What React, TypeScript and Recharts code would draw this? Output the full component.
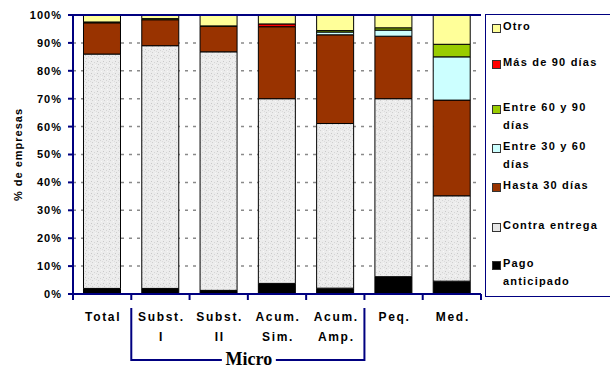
import React from 'react';
import { BarChart, Bar, XAxis, YAxis, CartesianGrid, ReferenceLine, Legend } from 'recharts';

const categories = ['Total', 'Subst. I', 'Subst. II', 'Acum. Sim.', 'Acum. Amp.', 'Peq.', 'Med.'];

const pagoAnticipado = [2.0, 2.0, 1.3, 3.8, 2.1, 6.2, 4.6];
const contraEntrega = [84.0, 87.0, 85.5, 66.2, 59.0, 63.8, 30.6];
const hasta30 = [11.2, 9.3, 9.2, 25.8, 31.8, 22.4, 34.3];
const entre30y60 = [0, 0, 0, 0, 1.0, 2.2, 15.5];
const entre60y90 = [0.3, 0.4, 0.1, 0, 0.5, 0.8, 4.5];
const mas90 = [0, 0, 0, 1.0, 0, 0, 0];
const otro = [2.5, 1.3, 3.9, 3.2, 5.6, 4.6, 10.5];

const yTicks = [0, 10, 20, 30, 40, 50, 60, 70, 80, 90, 100];

const NAVY = '#000080';
const SANS = '"Liberation Sans", Arial, sans-serif';

// series from top of legend to bottom
const series = [
  { key: 'otro', name: 'Otro', lines: ['Otro'], fill: '#ffff99', swatch: '#ffff99', y: 27 },
  { key: 'mas90', name: 'Más de 90 días', lines: ['Más de 90 días'], fill: '#ff0000', swatch: '#ff0000', y: 63 },
  { key: 'entre60y90', name: 'Entre 60 y 90 días', lines: ['Entre 60 y 90', 'días'], fill: '#99cc00', swatch: '#99cc00', y: 108 },
  { key: 'entre30y60', name: 'Entre 30 y 60 días', lines: ['Entre 30 y 60', 'días'], fill: '#ccffff', swatch: '#ccffff', y: 147 },
  { key: 'hasta30', name: 'Hasta 30 días', lines: ['Hasta 30 días'], fill: '#993300', swatch: '#993300', y: 186 },
  { key: 'contraEntrega', name: 'Contra entrega', lines: ['Contra entrega'], fill: 'url(#speckle)', swatch: '#e6e6e6', y: 226 },
  { key: 'pagoAnticipado', name: 'Pago anticipado', lines: ['Pago', 'anticipado'], fill: '#000000', swatch: '#000000', y: 264 },
];

const data = categories.map((c, i) => ({
  name: c,
  pagoAnticipado: pagoAnticipado[i],
  contraEntrega: contraEntrega[i],
  hasta30: hasta30[i],
  entre30y60: entre30y60[i],
  entre60y90: entre60y90[i],
  mas90: mas90[i],
  otro: otro[i],
}));

const W = 610;
const H = 369;
const PLOT_LEFT = 73;
const PLOT_RIGHT = 481;
const PLOT_TOP = 15;
const PLOT_BOTTOM = 294;
const BAND = (PLOT_RIGHT - PLOT_LEFT) / categories.length;

const XTick = (props: any) => {
  const { x, y, payload, index } = props;
  const half = payload && payload.offset ? payload.offset : BAND / 2;
  const lines = String(payload.value).split(' ');
  return (
    <g>
      <line x1={x - half} x2={x - half} y1={y} y2={y + 6} stroke={NAVY} strokeWidth={2} />
      {index === categories.length - 1 && (
        <line x1={x + half} x2={x + half} y1={y} y2={y + 6} stroke={NAVY} strokeWidth={2} />
      )}
      <text
        x={x + 1}
        y={y + 27}
        textAnchor="middle"
        fontFamily={SANS}
        fontWeight="bold"
        fontSize={12}
        letterSpacing={1.7}
        fill="#000"
      >
        {lines.map((l, i) => (
          <tspan key={i} x={x + 1} dy={i === 0 ? 0 : 20}>
            {l}
          </tspan>
        ))}
      </text>
    </g>
  );
};

const LegendBox = () => (
  <div
    style={{
      position: 'absolute',
      left: 485,
      top: 14,
      width: 130,
      height: 283,
      border: `1px solid ${NAVY}`,
      boxSizing: 'border-box',
      fontFamily: SANS,
      fontWeight: 'bold',
      fontSize: 11,
      letterSpacing: 1.2,
      color: '#000',
    }}
  >
    {series.map(s => (
      <div key={s.key} style={{ position: 'absolute', left: 0, top: s.y - 14 - 7 }}>
        <div
          style={{
            position: 'absolute',
            left: 6,
            top: 3,
            width: 7,
            height: 7,
            background: s.swatch,
            border: '1px solid #333',
          }}
        />
        {s.lines.map((l, i) => (
          <div key={i} style={{ position: 'absolute', left: 17, top: i * 18 - 2, whiteSpace: 'nowrap', lineHeight: '14px' }}>
            {l}
          </div>
        ))}
      </div>
    ))}
  </div>
);

export default function App() {
  const bracketX1 = PLOT_LEFT + BAND;
  const bracketX2 = PLOT_LEFT + BAND * 5;
  const mid = (bracketX1 + bracketX2) / 2;
  return (
    <div style={{ position: 'absolute', left: 0, top: 0, width: W, height: H, background: '#fff' }}>
      <svg width={0} height={0} style={{ position: 'absolute' }}>
        <defs>
          <pattern id="speckle" patternUnits="userSpaceOnUse" width={6} height={6}>
            <rect width={6} height={6} fill="#ececec" />
            <rect x={1} y={1} width={1} height={1} fill="#c8c8c8" />
            <rect x={4} y={2} width={1} height={1} fill="#d4d4d4" />
            <rect x={2} y={4} width={1} height={1} fill="#cfcfcf" />
            <rect x={5} y={5} width={1} height={1} fill="#f8f8f8" />
            <rect x={0} y={3} width={1} height={1} fill="#dcdcdc" />
          </pattern>
        </defs>
      </svg>
      <BarChart
        width={W}
        height={H}
        data={data}
        margin={{ top: PLOT_TOP, right: W - PLOT_RIGHT, left: 13, bottom: 0 }}
        barCategoryGap="18%"
      >
        <CartesianGrid vertical={false} stroke="#8a8a8a" strokeWidth={1.5} strokeDasharray="3 5" />
        <XAxis
          dataKey="name"
          axisLine={{ stroke: NAVY, strokeWidth: 2 }}
          tickLine={false}
          tickSize={0}
          tickMargin={0}
          height={H - PLOT_BOTTOM}
          tick={<XTick />}
          interval={0}
        />
        <YAxis
          domain={[0, 100]}
          ticks={yTicks}
          width={60}
          axisLine={{ stroke: NAVY, strokeWidth: 2 }}
          tickLine={{ stroke: NAVY, strokeWidth: 2 }}
          tickSize={5}
          tickMargin={6}
          tickFormatter={(v: number) => `${v}%`}
          tick={{ fill: '#000', fontFamily: SANS, fontWeight: 'bold', fontSize: 11, letterSpacing: 1 }}
          label={{
            content: (p: any) => {
              const vb = p.viewBox || { y: PLOT_TOP, height: PLOT_BOTTOM - PLOT_TOP };
              const cy = vb.y + vb.height / 2;
              return (
                <text
                  x={22}
                  y={cy}
                  transform={`rotate(-90 22 ${cy})`}
                  textAnchor="middle"
                  fontFamily={SANS}
                  fontWeight="bold"
                  fontSize={11}
                  letterSpacing={1}
                  fill="#000"
                >
                  % de empresas
                </text>
              );
            },
          }}
        />
        <YAxis
          yAxisId="right"
          orientation="right"
          domain={[0, 100]}
          width={0}
          tick={false}
          tickLine={false}
          axisLine={{ stroke: NAVY, strokeWidth: 2 }}
        />
        <ReferenceLine y={100} stroke={NAVY} strokeWidth={2} />
        {[...series].reverse().map(s => (
          <Bar
            key={s.key}
            dataKey={s.key}
            name={s.name}
            stackId="a"
            fill={s.fill}
            stroke="#000"
            strokeWidth={1}
            isAnimationActive={false}
          />
        ))}
        <Legend content={() => null} />
      </BarChart>
      <LegendBox />
      <svg width={W} height={H} style={{ position: 'absolute', left: 0, top: 0, pointerEvents: 'none' }}>
        <polyline
          points={`${bracketX1},308 ${bracketX1},360 ${mid - 26},360`}
          fill="none"
          stroke={NAVY}
          strokeWidth={2}
        />
        <polyline
          points={`${mid + 28},360 ${bracketX2},360 ${bracketX2},308`}
          fill="none"
          stroke={NAVY}
          strokeWidth={2}
        />
        <text
          x={mid + 1}
          y={365}
          textAnchor="middle"
          fontFamily='"Liberation Serif", "Times New Roman", serif'
          fontWeight="bold"
          fontSize={18}
          fill="#000"
        >
          Micro
        </text>
      </svg>
    </div>
  );
}
